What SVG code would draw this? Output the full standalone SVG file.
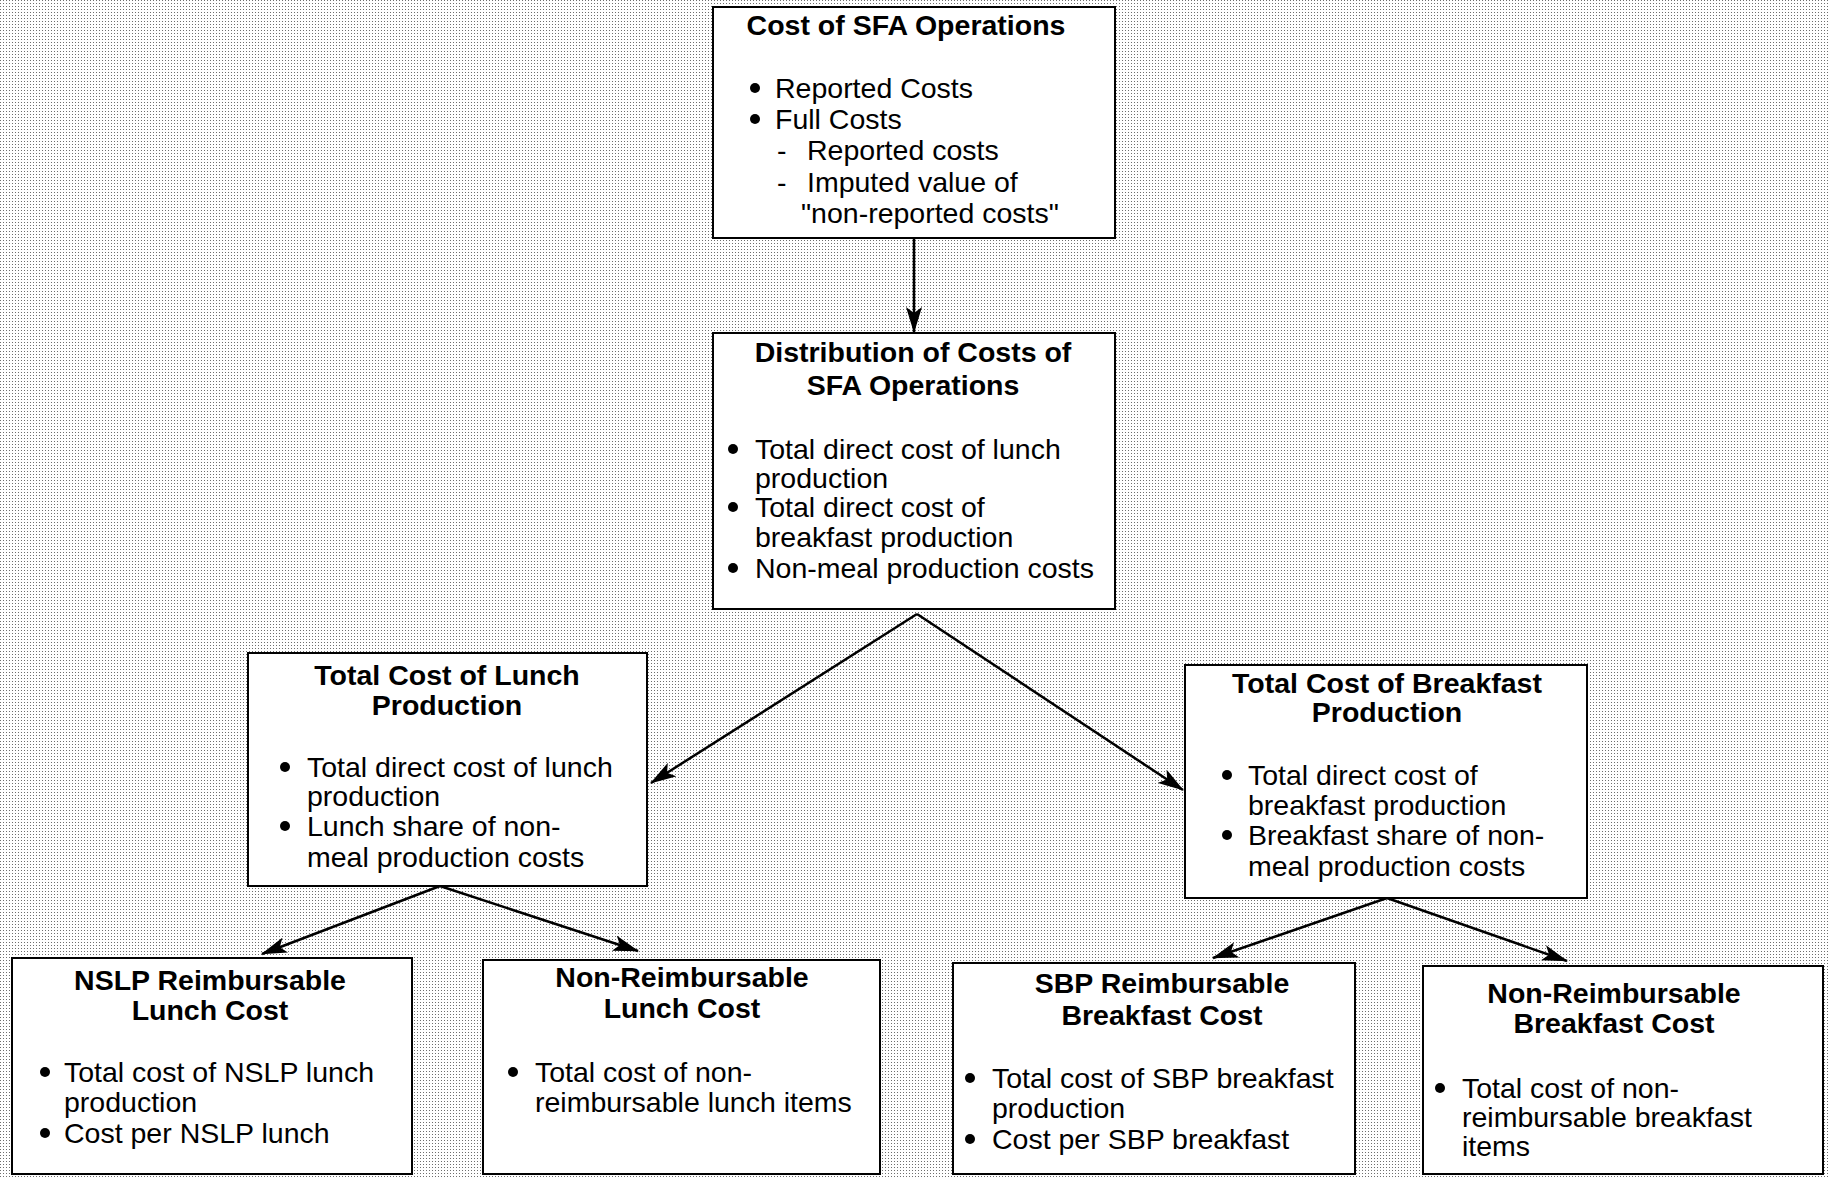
<svg xmlns="http://www.w3.org/2000/svg" width="1828" height="1179" viewBox="0 0 1828 1179">
<defs>
<pattern id="dots" width="3" height="3" patternUnits="userSpaceOnUse">
<rect width="3" height="3" fill="#ffffff"/>
<rect width="1" height="1" fill="#6e6e6e"/>
</pattern>
<marker id="arr" markerUnits="userSpaceOnUse" viewBox="0 0 26 16" markerWidth="26" markerHeight="16" refX="25" refY="8" orient="auto">
<path d="M26,8 L0,0 L6,8 L0,16 Z" fill="#000"/>
</marker>
</defs>
<style>
.box{fill:#fff;stroke:#000;stroke-width:2}
.t{font-family:"Liberation Sans",Arial,sans-serif;font-weight:bold;font-size:28.5px;text-anchor:middle;fill:#000}
.b{font-family:"Liberation Sans",Arial,sans-serif;font-size:28.5px;fill:#000}
.d{fill:#000}
.c{fill:none;stroke:#000;stroke-width:2.5}
</style>
<rect width="1828" height="1179" fill="url(#dots)"/>
<g id="connectors">
<line class="c" x1="914" y1="238" x2="914" y2="332" marker-end="url(#arr)"/>
<line class="c" x1="917" y1="614" x2="651" y2="783" marker-end="url(#arr)"/>
<line class="c" x1="917" y1="614" x2="1183" y2="790" marker-end="url(#arr)"/>
<line class="c" x1="440" y1="886" x2="262" y2="954" marker-end="url(#arr)"/>
<line class="c" x1="440" y1="886" x2="638" y2="951" marker-end="url(#arr)"/>
<line class="c" x1="1387" y1="898" x2="1213" y2="958" marker-end="url(#arr)"/>
<line class="c" x1="1387" y1="898" x2="1567" y2="961" marker-end="url(#arr)"/>
</g>
<g id="n1">
<rect class="box" x="713" y="7" width="402" height="231"/>
<text class="t" x="906" y="35">Cost of SFA Operations</text>
<circle class="d" cx="755" cy="88" r="5"/><text class="b" x="775" y="98">Reported Costs</text>
<circle class="d" cx="755" cy="119" r="5"/><text class="b" x="775" y="129">Full Costs</text>
<text class="b" x="777" y="160">-</text><text class="b" x="807" y="160">Reported costs</text>
<text class="b" x="777" y="192">-</text><text class="b" x="807" y="192">Imputed value of</text>
<text class="b" x="801" y="223">"non-reported costs"</text>
</g>
<g id="n2">
<rect class="box" x="713" y="333" width="402" height="276"/>
<text class="t" x="913" y="362">Distribution of Costs of</text>
<text class="t" x="913" y="395">SFA Operations</text>
<circle class="d" cx="733" cy="449" r="5"/><text class="b" x="755" y="459">Total direct cost of lunch</text>
<text class="b" x="755" y="488">production</text>
<circle class="d" cx="733" cy="507" r="5"/><text class="b" x="755" y="517">Total direct cost of</text>
<text class="b" x="755" y="547">breakfast production</text>
<circle class="d" cx="733" cy="568" r="5"/><text class="b" x="755" y="578">Non-meal production costs</text>
</g>
<g id="n3">
<rect class="box" x="248" y="653" width="399" height="233"/>
<text class="t" x="447" y="685">Total Cost of Lunch</text>
<text class="t" x="447" y="715">Production</text>
<circle class="d" cx="285" cy="767" r="5"/><text class="b" x="307" y="777">Total direct cost of lunch</text>
<text class="b" x="307" y="806">production</text>
<circle class="d" cx="285" cy="826" r="5"/><text class="b" x="307" y="836">Lunch share of non-</text>
<text class="b" x="307" y="867">meal production costs</text>
</g>
<g id="n4">
<rect class="box" x="1185" y="665" width="402" height="233"/>
<text class="t" x="1387" y="693">Total Cost of Breakfast</text>
<text class="t" x="1387" y="722">Production</text>
<circle class="d" cx="1227" cy="775" r="5"/><text class="b" x="1248" y="785">Total direct cost of</text>
<text class="b" x="1248" y="815">breakfast production</text>
<circle class="d" cx="1227" cy="835" r="5"/><text class="b" x="1248" y="845">Breakfast share of non-</text>
<text class="b" x="1248" y="876">meal production costs</text>
</g>
<g id="n5">
<rect class="box" x="12" y="958" width="400" height="216"/>
<text class="t" x="210" y="990">NSLP Reimbursable</text>
<text class="t" x="210" y="1020">Lunch Cost</text>
<circle class="d" cx="45" cy="1072" r="5"/><text class="b" x="64" y="1082">Total cost of NSLP lunch</text>
<text class="b" x="64" y="1112">production</text>
<circle class="d" cx="45" cy="1133" r="5"/><text class="b" x="64" y="1143">Cost per NSLP lunch</text>
</g>
<g id="n6">
<rect class="box" x="483" y="960" width="397" height="214"/>
<text class="t" x="682" y="987">Non-Reimbursable</text>
<text class="t" x="682" y="1018">Lunch Cost</text>
<circle class="d" cx="513" cy="1072" r="5"/><text class="b" x="535" y="1082">Total cost of non-</text>
<text class="b" x="535" y="1112">reimbursable lunch items</text>
</g>
<g id="n7">
<rect class="box" x="953" y="963" width="402" height="211"/>
<text class="t" x="1162" y="993">SBP Reimbursable</text>
<text class="t" x="1162" y="1025">Breakfast Cost</text>
<circle class="d" cx="970" cy="1078" r="5"/><text class="b" x="992" y="1088">Total cost of SBP breakfast</text>
<text class="b" x="992" y="1118">production</text>
<circle class="d" cx="970" cy="1139" r="5"/><text class="b" x="992" y="1149">Cost per SBP breakfast</text>
</g>
<g id="n8">
<rect class="box" x="1423" y="966" width="400" height="208"/>
<text class="t" x="1614" y="1003">Non-Reimbursable</text>
<text class="t" x="1614" y="1033">Breakfast Cost</text>
<circle class="d" cx="1440" cy="1088" r="5"/><text class="b" x="1462" y="1098">Total cost of non-</text>
<text class="b" x="1462" y="1127">reimbursable breakfast</text>
<text class="b" x="1462" y="1156">items</text>
</g>
</svg>
